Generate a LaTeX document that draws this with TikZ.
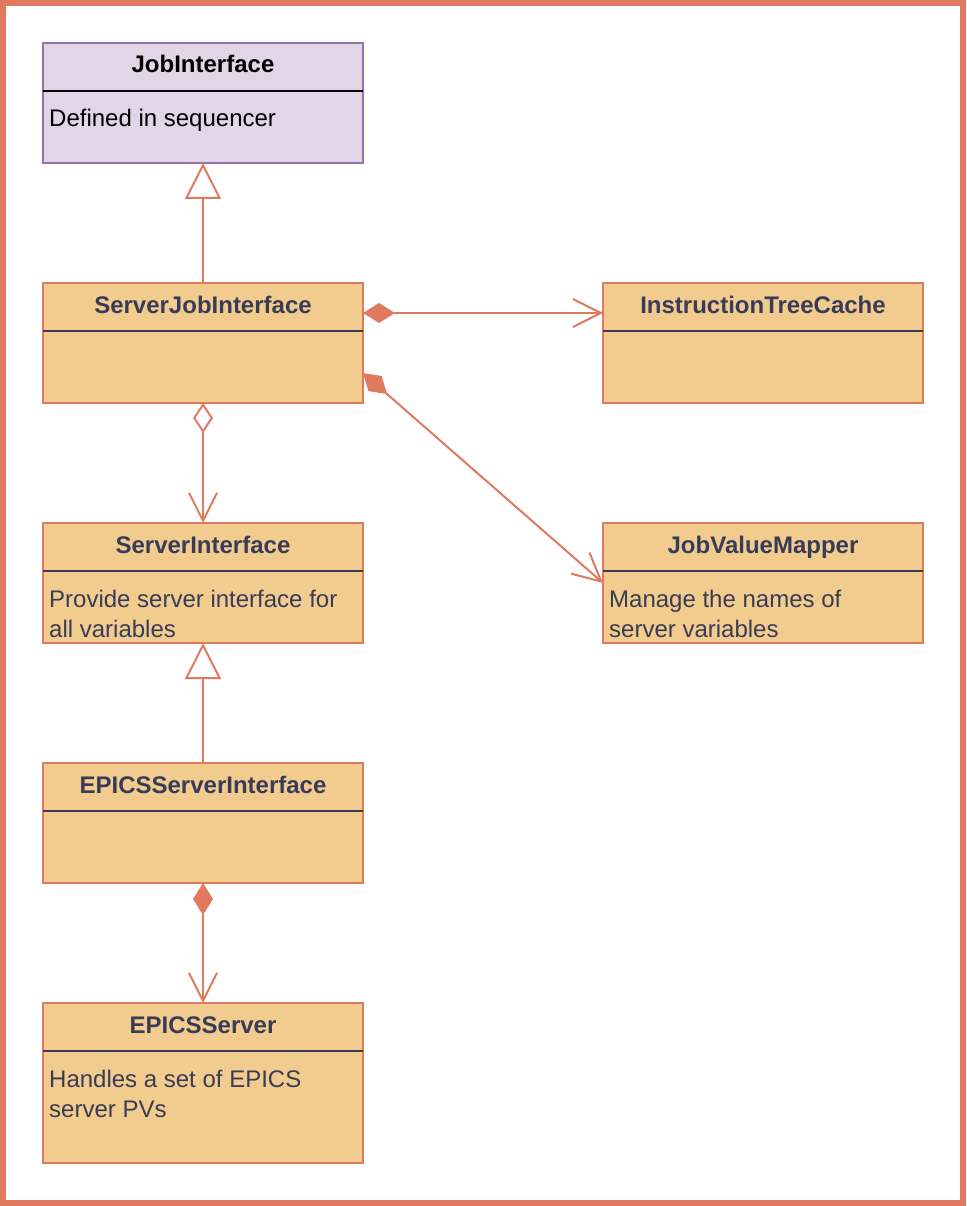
\documentclass[tikz,border=0pt]{standalone}
\usepackage{fontspec}
\setmainfont{Liberation Sans}
\usetikzlibrary{arrows.meta,calc}
\definecolor{ofill}{HTML}{F2CC8F}
\definecolor{ostroke}{HTML}{E07A5F}
\definecolor{otext}{HTML}{393C56}
\definecolor{pfill}{HTML}{E1D5E7}
\definecolor{pstroke}{HTML}{9673A6}
\tikzset{
  clsbox/.style={draw=ostroke, fill=ofill, line width=2pt, minimum width=320pt, minimum height=120pt, anchor=north west, inner sep=0pt, outer sep=0pt},
  purplebox/.style={clsbox, draw=pstroke, fill=pfill},
  clstitle/.style={anchor=base, inner sep=0pt, font=\fontsize{24}{30}\selectfont\bfseries, text=otext},
  clsbody/.style={anchor=base west, inner sep=0pt, align=left, font=\fontsize{24}{30}\selectfont, text=otext},
  sepline/.style={draw=otext, line width=2pt},
  conn/.style={draw=ostroke, line width=2pt},
  comp/.style={conn, {Diamond[length=32pt,width=20pt]}-{Straight Barb[length=28pt,width=28pt]}},
  agg/.style={conn, {Diamond[open,fill=white,length=30pt,width=20pt]}-{Straight Barb[length=28pt,width=28pt]}},
  gen/.style={conn, -{Triangle[open,fill=white,length=36pt,width=36pt]}},
}
\begin{document}
\begin{tikzpicture}[x=1pt,y=-1pt]
\useasboundingbox (0,0) rectangle (966,1206);
\fill[white] (0,0) rectangle (966,1206);
\draw[ostroke, line width=6pt] (3,3) rectangle (963,1203);

% JobInterface
\node[purplebox] (ji) at (43,43) {};
\draw[line width=2pt, black] ($(ji.north west)+(0,48)$) -- ($(ji.north east)+(0,48)$);
\node[clstitle, text=black] (jit) at ($(ji.north)+(0,30)$) {JobInterface};
\node[clsbody, text=black] (jib) at ($(ji.north west)+(6,84)$) {Defined in sequencer};

% ServerJobInterface
\node[clsbox] (sji) at (43,283) {};
\draw[sepline] ($(sji.north west)+(0,48)$) -- ($(sji.north east)+(0,48)$);
\node[clstitle] (sjit) at ($(sji.north)+(0,30)$) {ServerJobInterface};

% InstructionTreeCache
\node[clsbox] (itc) at (603,283) {};
\draw[sepline] ($(itc.north west)+(0,48)$) -- ($(itc.north east)+(0,48)$);
\node[clstitle] (itct) at ($(itc.north)+(0,30)$) {InstructionTreeCache};

% ServerInterface
\node[clsbox] (si) at (43,523) {};
\draw[sepline] ($(si.north west)+(0,48)$) -- ($(si.north east)+(0,48)$);
\node[clstitle] (sit) at ($(si.north)+(0,30)$) {ServerInterface};
\node[clsbody] (sib) at ($(si.north west)+(6,84)$) {Provide server interface for};
\node[clsbody] (sib2) at ($(si.north west)+(6,114)$) {all variables};

% JobValueMapper
\node[clsbox] (jvm) at (603,523) {};
\draw[sepline] ($(jvm.north west)+(0,48)$) -- ($(jvm.north east)+(0,48)$);
\node[clstitle] (jvmt) at ($(jvm.north)+(0,30)$) {JobValueMapper};
\node[clsbody] (jvmb) at ($(jvm.north west)+(6,84)$) {Manage the names of};
\node[clsbody] (jvmb2) at ($(jvm.north west)+(6,114)$) {server variables};

% EPICSServerInterface
\node[clsbox] (esi) at (43,763) {};
\draw[sepline] ($(esi.north west)+(0,48)$) -- ($(esi.north east)+(0,48)$);
\node[clstitle] (esit) at ($(esi.north)+(0,30)$) {EPICSServerInterface};

% EPICSServer
\node[clsbox, minimum height=160pt] (es) at (43,1003) {};
\draw[sepline] ($(es.north west)+(0,48)$) -- ($(es.north east)+(0,48)$);
\node[clstitle] (est) at ($(es.north)+(0,30)$) {EPICSServer};
\node[clsbody] (esb) at ($(es.north west)+(6,84)$) {Handles a set of EPICS};
\node[clsbody] (esb2) at ($(es.north west)+(6,114)$) {server PVs};

% connectors
\draw[gen] (sji.north) -- (ji.south);
\draw[gen] (esi.north) -- (si.south);
\draw[comp] ($(sji.north east)+(0,30)$) -- ($(itc.north west)+(0,30)$);
\draw[comp] ($(sji.north east)+(0,90)$) -- (jvm.west);
\draw[agg] (sji.south) -- (si.north);
\draw[comp] (esi.south) -- (es.north);
\end{tikzpicture}
\end{document}
